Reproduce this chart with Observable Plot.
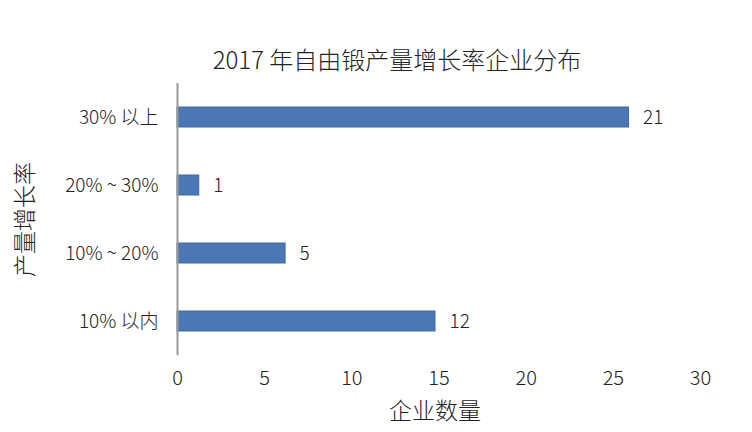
<!DOCTYPE html>
<html>
<head>
<meta charset="utf-8">
<script src="https://cdn.jsdelivr.net/npm/d3@7"></script>
<script src="https://cdn.jsdelivr.net/npm/@observablehq/plot@0.6"></script>
<style>
  html, body { margin: 0; padding: 0; background: #fff; }
  #chart svg { font-family: "Noto Sans CJK SC", "Noto Sans", sans-serif; font-weight: 300; }
</style>
</head>
<body>
<div id="chart"></div>
<script>
const title = "2017 年自由锻产量增长率企业分布";
const categories = ["30% 以上", "20% ~ 30%", "10% ~ 20%", "10% 以内"];
const counts = [21, 1, 5, 12];
// bar lengths as drawn in the reference picture (measured against its x axis)
const barLengths = [25.9, 1.25, 6.2, 14.8];
const xTicks = [0, 5, 10, 15, 20, 25, 30];
const xLabel = "企业数量";
const yLabel = "产量增长率";

const data = categories.map((c, i) => ({category: c, count: counts[i], length: barLengths[i]}));

const chart = Plot.plot({
  width: 752,
  height: 432,
  marginTop: 83,
  marginBottom: 77,
  marginLeft: 177,
  marginRight: 52,
  style: {fontSize: "19px", color: "#222", background: "#fff"},
  x: {domain: [0, 30]},
  y: {domain: categories, paddingInner: 0.7, paddingOuter: 0.35},
  marks: [
    Plot.barX(data, {y: "category", x: "length", fill: "#4b78b4", stroke: "#3f6aa5", strokeWidth: 1}),
    Plot.ruleX([0], {stroke: "#9a9a9a", strokeWidth: 2}),
    Plot.text(data, {y: "category", x: "length", text: d => String(d.count), textAnchor: "start", dx: 14, fontSize: 19, fill: "#222"}),
    Plot.axisY({tickSize: 0, tickPadding: 19, label: null, fontSize: 19}),
    Plot.axisX({ticks: xTicks, tickSize: 0, tickPadding: 15, label: null, fontSize: 20, tickFormat: d => String(d)}),
    Plot.text([yLabel], {frameAnchor: "left", textAnchor: "middle", lineAnchor: "middle", dx: -152, rotate: -90, fontSize: 23, fill: "#222"}),
    Plot.text([xLabel], {frameAnchor: "bottom", textAnchor: "middle", lineAnchor: "middle", dy: 56, dx: -4, fontSize: 23, fill: "#222"}),
    Plot.text([title], {frameAnchor: "top", textAnchor: "middle", lineAnchor: "middle", dy: -22, dx: -42, fontSize: 24, fill: "#222"})
  ]
});
document.getElementById("chart").appendChild(chart);
</script>
</body>
</html>
